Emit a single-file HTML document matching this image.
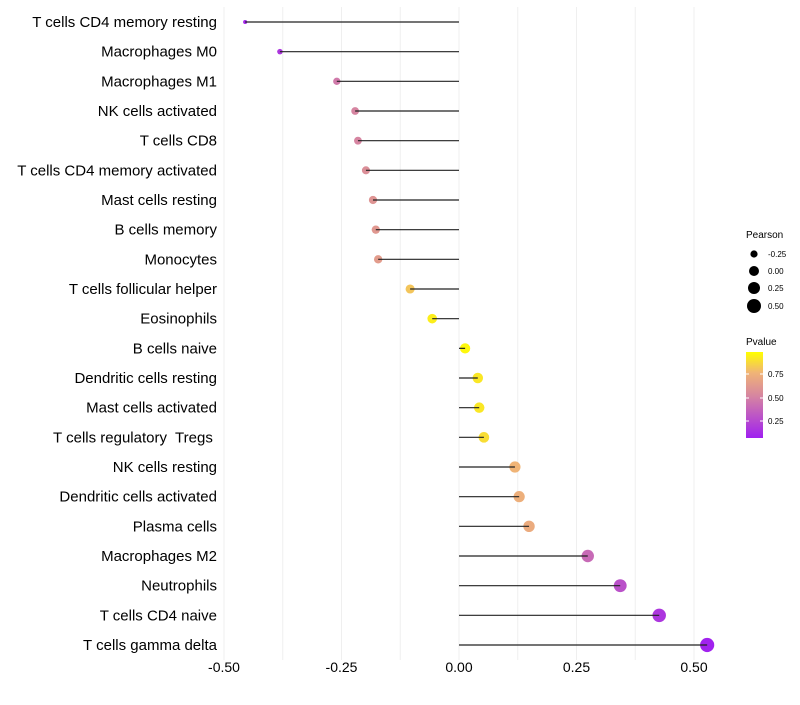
<!DOCTYPE html>
<html><head><meta charset="utf-8"><style>
body{margin:0;background:#fff;font-family:"Liberation Sans",sans-serif}
svg text{font-family:"Liberation Sans",sans-serif}
</style></head><body>
<svg id="chart" width="800" height="700" xmlns="http://www.w3.org/2000/svg">
<defs><linearGradient id="pg" x1="0" y1="1" x2="0" y2="0">
<stop offset="0" stop-color="#a020f0"/><stop offset="0.5" stop-color="#d7879f"/><stop offset="0.76" stop-color="#f0b476"/><stop offset="1" stop-color="#ffff00"/></linearGradient></defs>
<g id="grid"></g>
<g id="marks"></g>
<g id="ylab"></g>
<g id="xlab"></g>
<g>
<text x="746" y="238" font-size="10" fill="#000">Pearson</text>
<circle cx="754" cy="254" r="3.6"/><text x="768" y="257" font-size="8">-0.25</text>
<circle cx="754" cy="271" r="5"/><text x="768" y="274" font-size="8">0.00</text>
<circle cx="754" cy="288" r="6"/><text x="768" y="291" font-size="8">0.25</text>
<circle cx="754" cy="306" r="7"/><text x="768" y="309" font-size="8">0.50</text>
</g>
<g>
<text x="746" y="345" font-size="10">Pvalue</text>
<rect x="746" y="352" width="17" height="86" fill="url(#pg)"/>
<line x1="746" y1="374" x2="749" y2="374" stroke="#fff"/><line x1="760" y1="374" x2="763" y2="374" stroke="#fff"/>
<line x1="746" y1="398" x2="749" y2="398" stroke="#fff"/><line x1="760" y1="398" x2="763" y2="398" stroke="#fff"/>
<line x1="746" y1="421" x2="749" y2="421" stroke="#fff"/><line x1="760" y1="421" x2="763" y2="421" stroke="#fff"/>
<text x="768" y="377" font-size="8">0.75</text><text x="768" y="401" font-size="8">0.50</text><text x="768" y="424" font-size="8">0.25</text>
</g>
</svg>
<script>
const categories=["T cells CD4 memory resting","Macrophages M0","Macrophages M1","NK cells activated","T cells CD8","T cells CD4 memory activated","Mast cells resting","B cells memory","Monocytes","T cells follicular helper","Eosinophils","B cells naive","Dendritic cells resting","Mast cells activated","T cells regulatory\u00a0 Tregs\u00a0","NK cells resting","Dendritic cells activated","Plasma cells","Macrophages M2","Neutrophils","T cells CD4 naive","T cells gamma delta"];
const pearson=[-0.455,-0.381,-0.26,-0.221,-0.215,-0.198,-0.183,-0.177,-0.172,-0.104,-0.057,0.013,0.040,0.043,0.053,0.119,0.128,0.149,0.274,0.343,0.426,0.528];
const pvalue=[0.08,0.15,0.45,0.5,0.5,0.55,0.58,0.6,0.62,0.8,0.92,0.95,0.9,0.9,0.87,0.75,0.72,0.7,0.38,0.27,0.15,0.06];
const xTicks=[-0.5,-0.25,0,0.25,0.5];
const xTickLabels=["-0.50","-0.25","0.00","0.25","0.50"];
const NS="http://www.w3.org/2000/svg";
const xs=v=>459+v*470;
const ys=i=>22+i*(623/(categories.length-1));
const rs=v=>Math.sqrt(Math.max(2.5,25.5+46.8*v));
function col(p){const t=Math.max(0,Math.min(1,(p-0.05)/0.92));
const st=[[0,[160,32,240]],[0.5,[215,135,159]],[0.76,[240,180,118]],[1,[255,255,0]]];
for(let k=0;k<st.length-1;k++){const[a,ca]=st[k],[b,cb]=st[k+1];if(t<=b){const f=(t-a)/(b-a);return`rgb(${ca.map((c,j)=>Math.round(c+(cb[j]-c)*f)).join(',')})`;}}return'rgb(255,255,0)';}
function mk(t,a,p){const e=document.createElementNS(NS,t);for(const k in a)e.setAttribute(k,a[k]);p.appendChild(e);return e;}
const grid=document.getElementById('grid'),marks=document.getElementById('marks'),yl=document.getElementById('ylab'),xl=document.getElementById('xlab');
for(let v=-0.5;v<=0.5001;v+=0.125){const l=mk('line',{x1:xs(v),x2:xs(v),y1:7,y2:660,stroke:'#efefef','stroke-width':1},grid);

}
xTicks.forEach((v,i)=>{const t=mk('text',{x:xs(v),y:672,'text-anchor':'middle','font-size':14,fill:'#000'},xl);t.textContent=xTickLabels[i];

});
categories.forEach((c,i)=>{const y=ys(i);
const t=mk('text',{x:217,y:y+5,'text-anchor':'end','font-size':15,fill:'#000'},yl);t.textContent=c;


const d=mk('circle',{cx:xs(pearson[i]),cy:y,r:rs(pearson[i]),fill:col(pvalue[i])},marks);


const l=mk('line',{x1:xs(0),x2:xs(pearson[i]),y1:y,y2:y,stroke:'#222','stroke-width':1.2},marks);

});
</script>
</body></html>
